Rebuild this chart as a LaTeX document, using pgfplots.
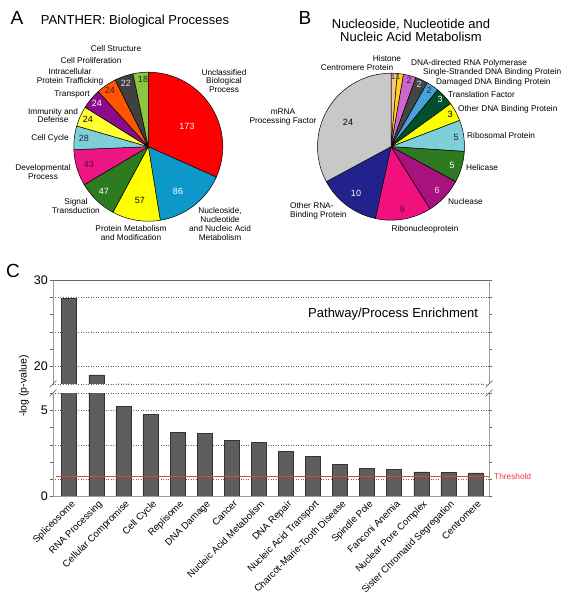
\documentclass[border=0pt]{standalone}
\usepackage{pgfplots}
\usepackage{pgfplotstable}
\pgfplotsset{compat=1.18}
\usepackage{fontspec}
\setmainfont{Liberation Sans}

\definecolor{aRed}{HTML}{FF0000}
\definecolor{aBlue}{HTML}{0C98C9}
\definecolor{aYellow}{HTML}{FFFF00}
\definecolor{aDkGreen}{HTML}{2E7A21}
\definecolor{aPink}{HTML}{EC1785}
\definecolor{aLtCyan}{HTML}{7ECFD9}
\definecolor{aYellow2}{HTML}{FFFF33}
\definecolor{aPurple}{HTML}{8C0A8C}
\definecolor{aOrange}{HTML}{FF5500}
\definecolor{aDkGray}{HTML}{404040}
\definecolor{aLime}{HTML}{8CC63F}
\definecolor{bTan}{HTML}{F6C48E}
\definecolor{bGold}{HTML}{FFD21A}
\definecolor{bOrchid}{HTML}{CC66CC}
\definecolor{bDkGray}{HTML}{454545}
\definecolor{bSteel}{HTML}{4AA0D8}
\definecolor{bDkGreen}{HTML}{00502B}
\definecolor{bYellow}{HTML}{FFFF00}
\definecolor{bLtCyan}{HTML}{7ECFD9}
\definecolor{bGreen}{HTML}{2E7A21}
\definecolor{bMagenta}{HTML}{A8127F}
\definecolor{bPink}{HTML}{F2107F}
\definecolor{bNavy}{HTML}{22228C}
\definecolor{bLtGray}{HTML}{C8C8C8}
\definecolor{barfill}{HTML}{5E5E5E}
\definecolor{baredge}{HTML}{333333}
\definecolor{axgray}{HTML}{9A9A9A}
\definecolor{thr}{HTML}{E6452A}
\definecolor{thrtext}{HTML}{EB3350}
\definecolor{numMaroon}{HTML}{5C0A2E}
\definecolor{numDark}{HTML}{1A2A3A}

\newcommand\fs[1]{\fontsize{#1}{#1}\selectfont}
\newcommand\lab{\fontsize{8.3}{8.8}\selectfont}

% pie slices drawn from the counts: value, total, colour
\newcommand\pieinit{\gdef\piesum{0}}
\newcommand\slice[3]{%
  \pgfmathsetmacro\sliceA{90-\piesum/#2*360}%
  \pgfmathsetmacro\sliceS{\piesum+#1}%
  \pgfmathsetmacro\sliceB{90-\sliceS/#2*360}%
  \xdef\piesum{\sliceS}%
  \edef\doslice{\noexpand\filldraw[fill=#3,draw=black,line width=0.5pt,line join=round]
     (axis cs:0,0) -- ++(\sliceA:\pieR pt) arc[start angle=\sliceA,end angle=\sliceB,radius=\pieR pt] -- cycle;}%
  \doslice}

\pgfplotstableread{
x y
0 27.9
1 19.05
2 5.22
3 4.75
4 3.70
5 3.64
6 3.25
7 3.13
8 2.62
9 2.33
10 1.86
11 1.61
12 1.57
13 1.43
14 1.39
15 1.37
}\bardata

\begin{document}
\begin{tikzpicture}
\path[use as bounding box] (0pt,0pt) rectangle (571pt,600pt);

% ---------------- Pie A ----------------
\def\pieR{74.5}
\pieinit
\begin{axis}[at={(73.8pt,378.8pt)}, anchor=south west, width=149pt, height=149pt,
  scale only axis, xmin=-1, xmax=1, ymin=-1, ymax=1, hide axis, clip=false]
\slice{173}{546}{aRed}
\slice{86}{546}{aBlue}
\slice{57}{546}{aYellow}
\slice{47}{546}{aDkGreen}
\slice{43}{546}{aPink}
\slice{28}{546}{aLtCyan}
\slice{24}{546}{aYellow2}
\slice{24}{546}{aPurple}
\slice{24}{546}{aOrange}
\slice{22}{546}{aDkGray}
\slice{18}{546}{aLime}
\end{axis}

% ---------------- Pie B ----------------
\def\pieR{73.5}
\pieinit
\begin{axis}[at={(317.5pt,379.8pt)}, anchor=south west, width=147pt, height=147pt,
  scale only axis, xmin=-1, xmax=1, ymin=-1, ymax=1, hide axis, clip=false]
\slice{1}{73}{bTan}
\slice{1}{73}{bGold}
\slice{2}{73}{bOrchid}
\slice{2}{73}{bDkGray}
\slice{2}{73}{bSteel}
\slice{3}{73}{bDkGreen}
\slice{3}{73}{bYellow}
\slice{5}{73}{bLtCyan}
\slice{5}{73}{bGreen}
\slice{6}{73}{bMagenta}
\slice{9}{73}{bPink}
\slice{10}{73}{bNavy}
\slice{24}{73}{bLtGray}
\end{axis}

% ---------------- Panel C: upper segment ----------------
\begin{axis}[name=up, at={(53pt,216pt)}, anchor=south west,
  width=436pt, height=104pt, scale only axis,
  xmin=-0.6, xmax=15.5, ymin=18, ymax=30,
  axis line style={draw=none},
  xtick=\empty,
  ytick={20,22,...,30}, yticklabels={20,,,,,30}, ytick pos=both,
  tick align=outside, major tick length=3pt,
  ytick style={draw=black!60, line width=0.5pt},
  extra y ticks={18,20,24,28}, extra y tick labels={},
  extra y tick style={grid=major, major tick length=0pt},
  major grid style={dash pattern=on 1pt off 1.5pt, black!60, line width=0.5pt},
  y tick label style={font=\fs{12.5}, inner sep=2pt},
  /pgf/number format/assume math mode=true,
]
\addplot[ybar, bar width=15pt, bar shift=0pt, fill=barfill, draw=baredge, line width=0.5pt]
  table[x=x,y=y] {\bardata};
\node[font=\fs{13}] at (axis cs:11.96,26.1) {Pathway/Process Enrichment};
\end{axis}

% ---------------- Panel C: lower segment ----------------
\begin{axis}[name=low, at={(53pt,103.5pt)}, anchor=south west,
  width=436pt, height=103.5pt, scale only axis,
  xmin=-0.6, xmax=15.5, ymin=0, ymax=6,
  clip mode=individual,
  axis line style={draw=none},
  xtick={0,...,15},
  xticklabels={Spliceosome, RNA Processing, Cellular Compromise, Cell Cycle, Replisome,
    DNA Damage, Cancer, Nucleic Acid Metabolism, DNA Repair, Nucleic Acid Transport,
    Charcot-Marie-Tooth Disease, Spindle Pole, Fanconi Anemia, Nuclear Pore Complex,
    Sister Chromatid Segregation, Centromere},
  x tick label style={rotate=45, anchor=north east, font=\fs{9.6}, inner sep=1pt, xshift=2pt},
  xtick style={draw=none},
  ytick={0,...,6}, yticklabels={0,,,,,5,}, ytick pos=both,
  tick align=outside, major tick length=3pt,
  ytick style={draw=black!60, line width=0.5pt},
  extra y ticks={1,3,5,6}, extra y tick labels={},
  extra y tick style={grid=major, major tick length=0pt},
  major grid style={dash pattern=on 1pt off 1.5pt, black!60, line width=0.5pt},
  y tick label style={font=\fs{12.5}, inner sep=2pt},
  /pgf/number format/assume math mode=true,
]
\addplot[ybar, bar width=15pt, bar shift=0pt, fill=barfill, draw=baredge, line width=0.5pt]
  table[x=x,y=y] {\bardata};
\addplot[thr, line width=1.3pt] coordinates {(-0.5,1.16) (15.5,1.16)};
\node[anchor=west, text=thrtext, font=\fs{8.3}, inner sep=0pt] at (axis cs:15.5,1.16) {\hspace{5pt}Threshold};
\end{axis}

% frame and breaks
\draw[axgray, line width=0.8pt] (up.south west) -- (up.north west);
\draw[black!60, line width=0.7pt] (up.north west) -- (up.north east);
\draw[axgray, line width=0.8pt] (up.north east) -- (up.south east);
\draw[axgray, line width=0.8pt] (low.north west) -- (low.south west);
\draw[axgray, line width=0.8pt] (low.north east) -- (low.south east);
\draw[axgray, line width=1.8pt] (low.south west) -- (low.south east);
\foreach \p in {up.south west, up.south east, low.north west, low.north east}
  \draw[black!65, line width=0.6pt] (\p) ++(-3.5pt,-3.5pt) -- ++(7pt,7pt);

% ---------------- text (image coordinates) ----------------
\begin{scope}[yshift=600pt, x=1pt, y=-1pt]
% Panel A
\node[font=\fs{19}] at (17,18) {A};
\node[font=\fs{13}] at (135,21) {PANTHER: Biological Processes};
\begin{scope}[every node/.style={font=\lab, align=center, inner sep=0pt}]
\node at (116,49) {Cell Structure};
\node at (91,61) {Cell Proliferation};
\node at (70,77) {Intracellular\\Protein Trafficking};
\node at (72,95) {Transport};
\node at (53,115.5) {Immunity and\\Defense};
\node at (50,138) {Cell Cycle};
\node at (43,172) {Developmental\\Process};
\node at (76,206) {Signal\\Transduction};
\node at (131,233) {Protein Metabolism\\and Modification};
\node at (220,224) {Nucleoside,\\Nucleotide\\and Nucleic Acid\\Metabolism};
\node at (224,81) {Unclassified\\Biological\\Process};
\end{scope}
\begin{scope}[every node/.style={font=\fs{9}, inner sep=0pt}]
\node[text=white] at (187,126) {173};
\node[text=white] at (178,191) {86};
\node at (140,200) {57};
\node[text=white] at (104,191) {47};
\node[text=numMaroon] at (89,164) {43};
\node[text=numDark] at (84,138) {28};
\node at (88,119) {24};
\node[text=white] at (97,103) {24};
\node[text=numMaroon] at (110,90) {24};
\node[text=black!12] at (126,83) {22};
\node[text=numDark] at (143,79) {18};
\end{scope}

% Panel B
\node[font=\fs{19}] at (305,18) {B};
\node[font=\fs{13}, align=center, text depth=0pt] at (411,30)
  {\fontsize{13}{14.5}\selectfont Nucleoside, Nucleotide and\\Nucleic Acid Metabolism};
\begin{scope}[every node/.style={font=\lab, inner sep=0pt}]
\node at (387,59) {Histone};
\node at (357,68) {Centromere Protein};
\node[anchor=west] at (411,63) {DNA-directed RNA Polymerase};
\node[anchor=west] at (423,72) {Single-Stranded DNA Binding Protein};
\node[anchor=west] at (436,82) {Damaged DNA Binding Protein};
\node[anchor=west] at (448,95) {Translation Factor};
\node[anchor=west] at (458,109) {Other DNA Binding Protein};
\node[anchor=west] at (467,136) {Ribosomal Protein};
\node[anchor=west] at (466,168) {Helicase};
\node[anchor=west] at (448,202) {Nuclease};
\node at (425,229) {Ribonucleoprotein};
\node[anchor=west, align=left] at (290,211) {Other RNA-\\Binding Protein};
\node[align=center] at (283,117) {mRNA\\Processing Factor};
\end{scope}
\begin{scope}[every node/.style={font=\fs{9}, inner sep=0pt}]
\node at (348,122) {24};
\node[text=white] at (356,193) {10};
\node[text=numMaroon] at (402,209) {9};
\node[text=pink!60] at (437,190) {6};
\node[text=white] at (452,165) {5};
\node[text=numDark] at (456,137) {5};
\node at (450,114) {3};
\node[text=white] at (440,99) {3};
\node[text=numDark] at (429,90) {2};
\node[text=black!12] at (419,84) {2};
\node[text=numDark] at (409,80) {2};
\node[font=\fs{8}, text=numDark] at (398,77) {1};
\node[font=\fs{8}, text=numDark] at (393,77) {1};
\end{scope}

% Panel C
\node[font=\fs{19}] at (13,271) {C};
\node[font=\fs{10.5}, rotate=90] at (24,386) {-log (p-value)};
\end{scope}
\end{tikzpicture}
\end{document}
